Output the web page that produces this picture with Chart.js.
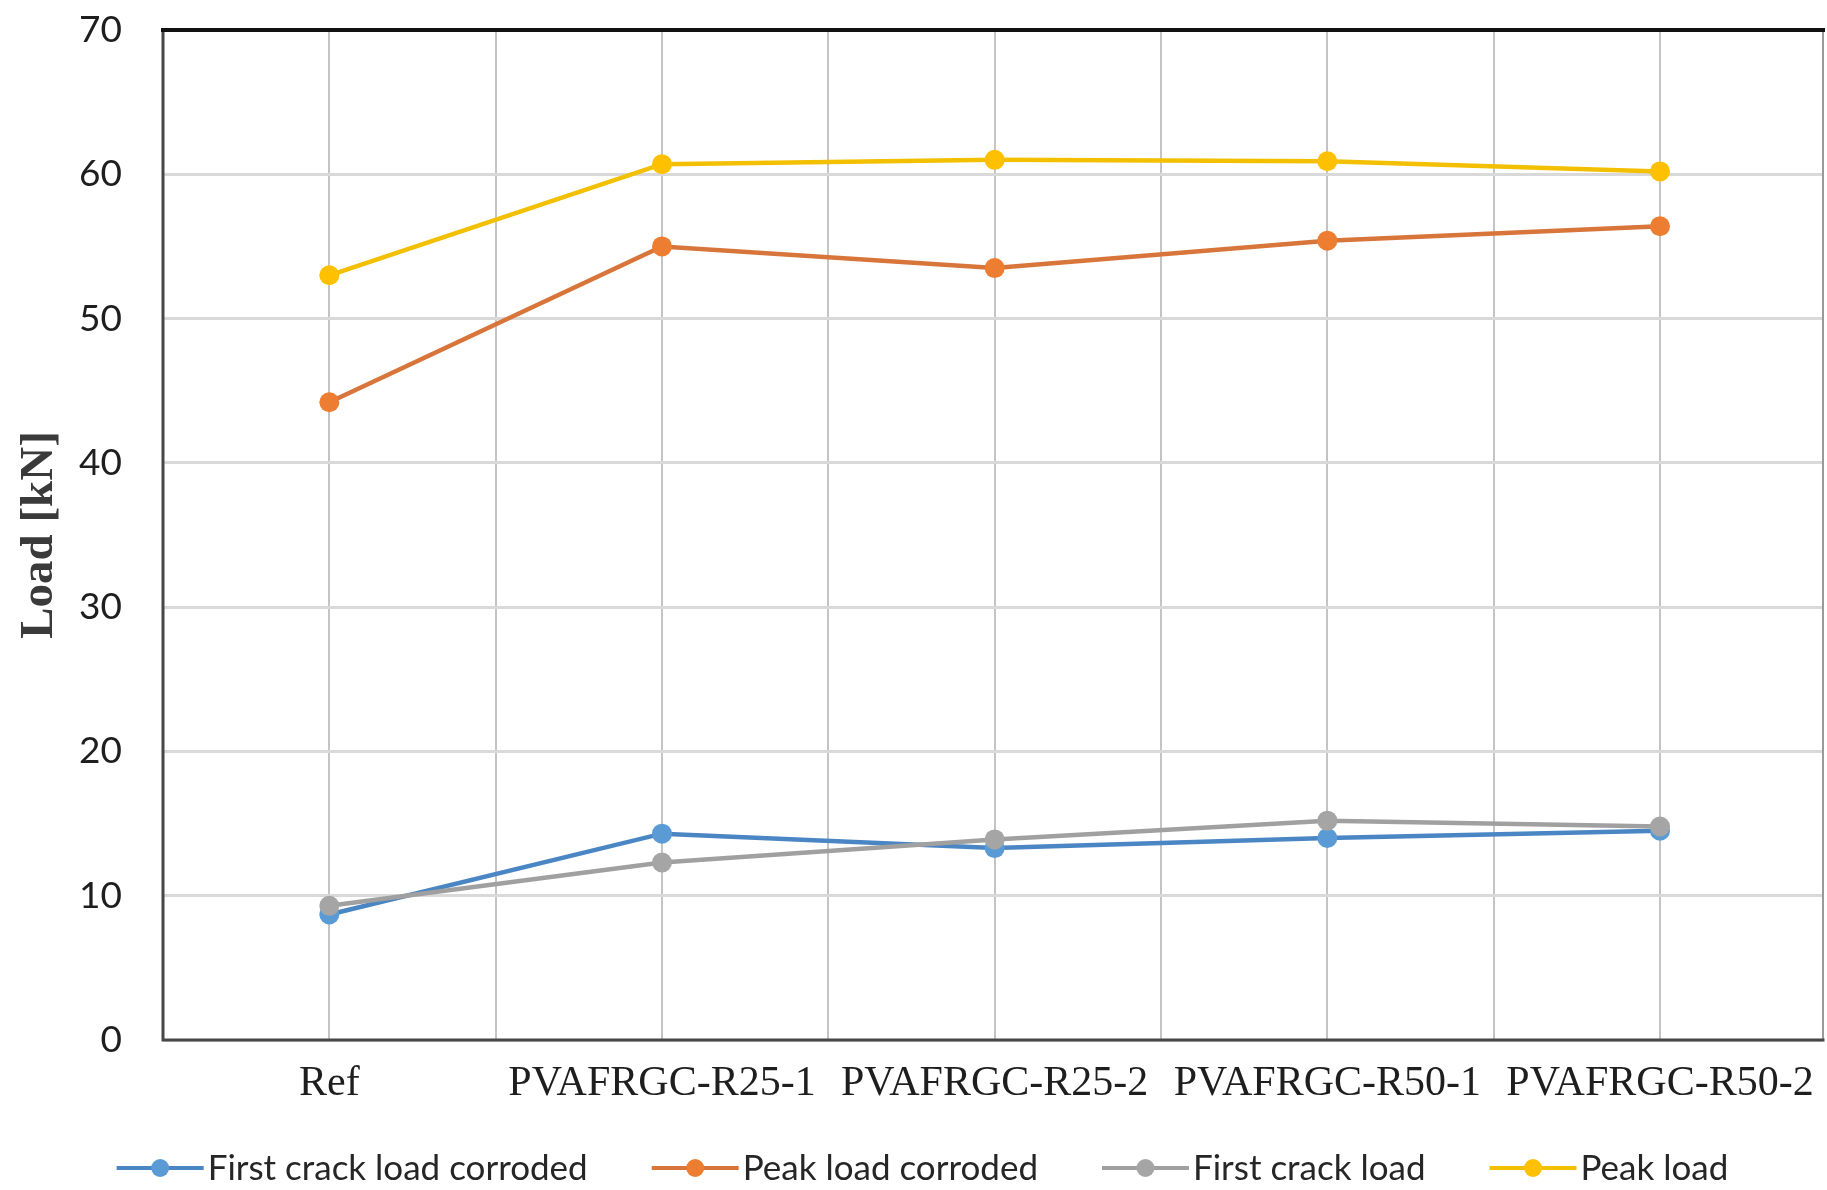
<!DOCTYPE html>
<html>
<head>
<meta charset="utf-8">
<title>Load [kN]</title>
<script src="https://cdn.jsdelivr.net/npm/chart.js@4.4.1/dist/chart.umd.min.js"></script>
<style>
  html, body { margin: 0; padding: 0; background: #ffffff; overflow: hidden; }
  #wrap { width: 1827px; height: 1190px; position: relative; overflow: hidden; }
  #chart { display: block; }
</style>
</head>
<body>
<div id="wrap"><canvas id="chart"></canvas></div>
<script>
// Specimens along the horizontal axis
const categories = ['Ref', 'PVAFRGC-R25-1', 'PVAFRGC-R25-2', 'PVAFRGC-R50-1', 'PVAFRGC-R50-2'];

// Loads in kN
const firstCrackCorroded = [8.7, 14.3, 13.3, 14.0, 14.5];
const peakCorroded       = [44.2, 55.0, 53.5, 55.4, 56.4];
const firstCrack         = [9.3, 12.3, 13.9, 15.2, 14.8];
const peakLoad           = [53.0, 60.7, 61.0, 60.9, 60.2];

const seriesNames = ['First crack load corroded', 'Peak load corroded', 'First crack load', 'Peak load'];
const yTicks = [0, 10, 20, 30, 40, 50, 60, 70];

const toPoints = arr => arr.map((v, i) => ({ x: i, y: v }));

function series(label, values, line, fill, order) {
  return {
    label,
    data: toPoints(values),
    borderColor: line,
    backgroundColor: fill,
    pointBackgroundColor: fill,
    pointBorderColor: fill,
    pointBorderWidth: 0,
    pointRadius: 10,
    pointHoverRadius: 10,
    borderWidth: 4.5,
    tension: 0,
    order
  };
}

const datasets = [
  series(seriesNames[0], firstCrackCorroded, '#4a86c4', '#5b9bd5', 4),
  series(seriesNames[1], peakCorroded, '#d8753a', '#ed7d31', 3),
  series(seriesNames[2], firstCrack, '#a0a0a0', '#a5a5a5', 2),
  series(seriesNames[3], peakLoad, '#f2c000', '#ffc000', 1)
];

// Frame around the plot area
const frame = {
  id: 'frame',
  beforeDatasetsDraw(chart) {
    const { ctx, chartArea: a } = chart;
    ctx.save();
    ctx.lineCap = 'square';
    ctx.strokeStyle = '#9a9a9a';
    ctx.lineWidth = 2;
    ctx.beginPath(); ctx.moveTo(a.right, a.top); ctx.lineTo(a.right, a.bottom); ctx.stroke();
    ctx.strokeStyle = '#474747';
    ctx.lineWidth = 3;
    ctx.beginPath(); ctx.moveTo(a.left, a.top); ctx.lineTo(a.left, a.bottom); ctx.lineTo(a.right, a.bottom); ctx.stroke();
    ctx.strokeStyle = '#111111';
    ctx.lineWidth = 4;
    ctx.beginPath(); ctx.moveTo(a.left, a.top); ctx.lineTo(a.right, a.top); ctx.stroke();
    ctx.restore();
  }
};

// Legend row: line with a round marker, then the series name
const lineLegend = {
  id: 'lineLegend',
  afterDraw(chart) {
    const { ctx } = chart;
    const y = 1168;
    const lineLen = 87, gapText = 4, gapItem = 64;
    ctx.save();
    ctx.font = '35px Lato, "Open Sans", sans-serif';
    ctx.textBaseline = 'middle';
    const items = chart.data.datasets.map(ds => ({
      ds, w: lineLen + gapText + ctx.measureText(ds.label).width
    }));
    const total = items.reduce((s, it) => s + it.w, 0) + gapItem * (items.length - 1);
    let x = chart.width / 2 - total / 2 + 9;
    items.forEach(({ ds, w }) => {
      ctx.strokeStyle = ds.borderColor;
      ctx.lineWidth = 4;
      ctx.beginPath(); ctx.moveTo(x, y); ctx.lineTo(x + lineLen, y); ctx.stroke();
      ctx.fillStyle = ds.pointBackgroundColor;
      ctx.beginPath(); ctx.arc(x + lineLen / 2, y, 9, 0, Math.PI * 2); ctx.fill();
      ctx.fillStyle = '#262626';
      ctx.fillText(ds.label, x + lineLen + gapText, y + 1);
      x += w + gapItem;
    });
    ctx.restore();
  }
};

new Chart(document.getElementById('chart'), {
  type: 'line',
  data: { datasets },
  plugins: [frame, lineLegend],
  options: {
    responsive: true,
    maintainAspectRatio: false,
    animation: false,
    events: [],
    layout: { autoPadding: false, padding: { top: 30, right: 4, left: 0, bottom: 0 } },
    plugins: { legend: { display: false }, tooltip: { enabled: false } },
    scales: {
      x: {
        type: 'linear',
        min: -0.5,
        max: 4.49,
        afterBuildTicks(scale) {
          const t = [];
          for (let v = -0.5; v <= 4.0001; v += 0.5) t.push({ value: v });
          t.push({ value: 4.49 });
          scale.ticks = t;
        },
        afterFit(scale) {
          scale.height = 150;
          scale.paddingLeft = 0;
          scale.paddingRight = 0;
        },
        grid: { color: '#c4c4c4', lineWidth: 2, drawTicks: false },
        border: { display: false },
        ticks: {
          autoSkip: false,
          maxRotation: 0,
          padding: 19,
          color: '#1e1e1e',
          font: { family: '"Liberation Serif", "Times New Roman", serif', size: 42 },
          callback: v => (Number.isInteger(v) ? categories[v] : '')
        }
      },
      y: {
        min: 0,
        max: 70,
        afterBuildTicks(scale) { scale.ticks = yTicks.map(v => ({ value: v })); },
        afterFit(scale) {
          scale.width = 163;
          scale.paddingTop = 0;
          scale.paddingBottom = 0;
        },
        grid: { color: '#d9d9d9', lineWidth: 3, drawTicks: false },
        border: { display: false },
        ticks: {
          padding: 41,
          color: '#1e1e1e',
          font: { family: 'Lato, "Open Sans", sans-serif', size: 37 }
        },
        title: {
          display: true,
          text: 'Load [kN]',
          color: '#3a3a3a',
          padding: { top: 12, bottom: 0 },
          font: { family: '"Liberation Serif", "Times New Roman", serif', size: 47, weight: 'bold' }
        }
      }
    }
  }
});
</script>
</body>
</html>
